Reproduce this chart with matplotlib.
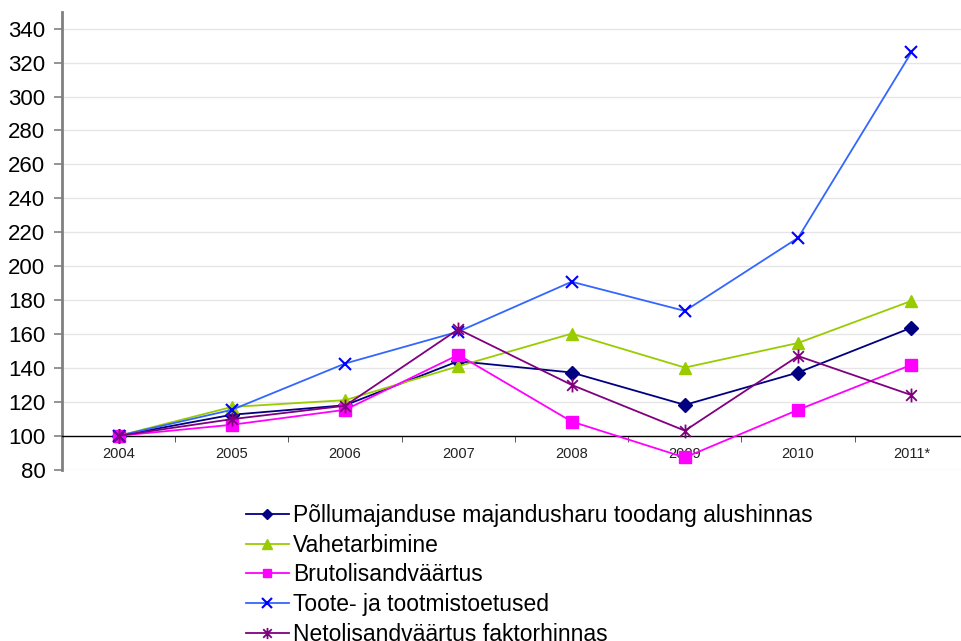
import matplotlib.pyplot as plt
from matplotlib.path import Path

plt.rcParams['font.family'] = ['Liberation Sans', 'DejaVu Sans']

years = ['2004', '2005', '2006', '2007', '2008', '2009', '2010', '2011*']

toodang = [100, 112.4, 118, 144, 137.3, 118.2, 137.3, 163.7]
vahetarbimine = [100, 117, 121, 141, 160.2, 140.2, 154.7, 179.5]
brutolisand = [100, 106.5, 115.3, 147.7, 108.4, 87.2, 115.3, 141.8]
toetused = [100, 115.3, 142.6, 161.4, 190.8, 173.6, 216.7, 326]
netolisand = [100, 109.8, 117.7, 162.8, 130, 103, 147, 124]

labels = ['Põllumajanduse majandusharu toodang alushinnas',
          'Vahetarbimine',
          'Brutolisandväärtus',
          'Toote- ja tootmistoetused',
          'Netolisandväärtus faktorhinnas']

# excel-like asterisk: an x with a vertical bar
asterisk = Path([(-1, -1), (1, 1), (-1, 1), (1, -1), (0, -1.3), (0, 1.3)],
                [Path.MOVETO, Path.LINETO, Path.MOVETO, Path.LINETO, Path.MOVETO, Path.LINETO])

fig = plt.figure(figsize=(9.62, 6.41), dpi=100)
ax = fig.add_axes([62 / 962, 1 - 469.7 / 641, 906 / 962, (469.7 - 11.7) / 641])

x = range(len(years))
ax.plot(x, toodang, color='#000080', lw=1.3, marker='D', ms=7, label=labels[0], zorder=3)
ax.plot(x, vahetarbimine, color='#99CC00', lw=1.3, marker='^', ms=9, label=labels[1], zorder=3)
ax.plot(x, brutolisand, color='#FF00FF', lw=1.3, marker='s', ms=8, label=labels[2], zorder=3)
ax.plot(x, toetused, color='#3366FF', lw=1.3, marker='x', ms=9, mew=1.5, mec='#0000FF',
        label=labels[3], zorder=3)
ax.plot(x, netolisand, color='#800080', lw=1.3, marker=asterisk, ms=10, mew=1.3,
        label=labels[4], zorder=3)

ax.set_xlim(-0.5, len(years) - 0.5)
ax.set_ylim(80, 350)
ax.set_yticks(range(80, 341, 20))
for v in range(80, 341, 20):
    if v != 100:
        ax.axhline(v, color='#E6E6E6', lw=1, zorder=0)

ax.spines['top'].set_visible(False)
ax.spines['right'].set_visible(False)
ax.spines['left'].set_color('#808080')
ax.spines['left'].set_linewidth(2)
ax.spines['bottom'].set_position(('data', 100))
ax.spines['bottom'].set_color('black')
ax.spines['bottom'].set_linewidth(1)

ax.set_xticks(list(x))
ax.set_xticklabels(years, fontsize=10.5, color='#222222')
ax.set_xticks([i + 0.5 for i in range(len(years))], minor=True)
ax.tick_params(axis='x', which='major', length=0, pad=8)
ax.tick_params(axis='x', which='minor', length=4, color='#404040', direction='out')
ax.tick_params(axis='y', labelsize=16, length=6, color='#808080', width=1.2, pad=6)

fig.legend(loc='upper left', bbox_to_anchor=(237 / 962, 1 - 495 / 641), frameon=False,
           fontsize=16.5, handlelength=1.85, handletextpad=0.2, labelspacing=0.29,
           borderaxespad=0, markerscale=0.8)

fig.savefig('out.png', dpi=100)
